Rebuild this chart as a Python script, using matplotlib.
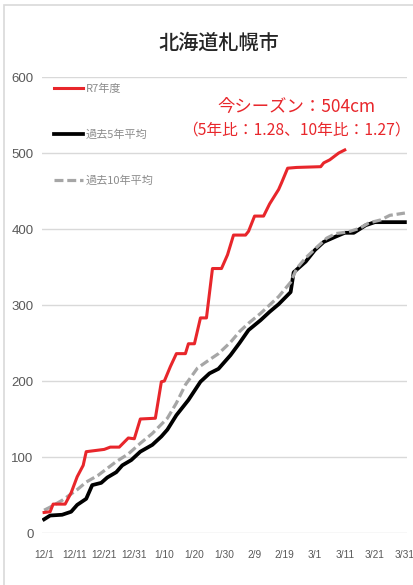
import matplotlib
matplotlib.use("Agg")
import matplotlib.pyplot as plt
from matplotlib.lines import Line2D
from matplotlib.patches import Rectangle

plt.rcParams['font.family'] = ['Noto Sans CJK JP', 'DejaVu Sans']

title = "北海道札幌市"
x_tick_days = [0, 10, 20, 30, 40, 50, 60, 70, 80, 90, 100, 110, 120]
x_tick_labels = ["12/1", "12/11", "12/21", "12/31", "1/10", "1/20", "1/30",
                 "2/9", "2/19", "3/1", "3/11", "3/21", "3/31"]
y_ticks = [0, 100, 200, 300, 400, 500, 600]

# R7年度 (days since 12/1, cumulative snowfall cm)
r7_days = [0, 2, 3, 7, 9, 11, 13, 14, 20, 22, 25, 28, 30, 32, 37, 39, 40, 42, 44,
           47, 48, 50, 52, 54, 56, 59, 61, 63, 67, 68, 70, 73, 75, 78, 79, 81,
           84, 92, 93, 95, 98, 100]
r7_vals = [27, 28, 38, 38, 53, 74, 89, 107, 110, 113, 113, 125, 124, 150, 151, 199,
           200, 219, 236, 236, 249, 249, 283, 283, 348, 348, 366, 392, 392, 397,
           417, 417, 433, 452, 461, 480, 481, 482, 487, 491, 500, 504]

# 過去5年平均
avg5_days = [0, 2, 6, 9, 11, 14, 16, 19, 21, 24, 26, 29, 32, 36, 39, 41, 44, 48,
             52, 55, 58, 62, 65, 68, 72, 75, 78, 82, 83, 87, 90, 93, 97, 100,
             103, 107, 110, 114, 120]
avg5_vals = [18, 23, 24, 28, 37, 45, 63, 66, 73, 80, 89, 96, 107, 116, 127, 136,
             155, 175, 199, 210, 216, 234, 250, 267, 280, 291, 301, 317, 343,
             357, 372, 383, 390, 395, 395, 405, 409, 409, 409]

# 過去10年平均
avg10_days = [0, 2, 6, 11, 14, 18, 21, 24, 28, 32, 36, 41, 44, 47, 51, 55, 58, 62,
              65, 68, 72, 75, 78, 82, 84, 87, 91, 94, 97, 101, 105, 108, 112,
              115, 120]
avg10_vals = [30, 34, 43, 57, 67, 76, 85, 94, 104, 118, 131, 151, 171, 195, 217,
              228, 236, 251, 265, 276, 289, 300, 311, 330, 348, 362, 377, 388,
              394, 396, 401, 408, 412, 418, 421]

labels = ["R7年度", "過去5年平均", "過去10年平均"]
note1 = "今シーズン：504cm"
note2 = "（5年比：1.28、10年比：1.27）"

W, H = 414, 585
fig = plt.figure(figsize=(W / 100, H / 100), dpi=100)
fig.patches.append(Rectangle((4 / W, -0.01), 1.0, 1 - 5 / H + 0.01,
                             transform=fig.transFigure, fill=False,
                             edgecolor="#d9d9d9", linewidth=1.2))

ax = fig.add_axes([42 / W, (585 - 533) / H, 365 / W, (533 - 77) / H])

red = "#e8262b"
gray = "#a6a6a6"
ax.plot(avg10_days, avg10_vals, color=gray, lw=2.3, dashes=(2.8, 1.2),
        label=labels[2], zorder=3)
ax.plot(avg5_days, avg5_vals, color="black", lw=2.7, label=labels[1], zorder=2)
ax.plot(r7_days, r7_vals, color=red, lw=2.2, label=labels[0], zorder=4)

ax.set_xlim(-0.7, 120.7)
ax.set_ylim(0, 600)
ax.set_yticks(y_ticks)
ax.set_xticks(x_tick_days)
ax.set_xticklabels(x_tick_labels)
ax.grid(axis="y", color="#d9d9d9", lw=1.0)
ax.set_axisbelow(True)
for s in ax.spines.values():
    s.set_visible(False)
ax.tick_params(length=0, colors="#595959")
for lab in ax.get_yticklabels():
    lab.set_fontfamily(['Liberation Sans', 'DejaVu Sans'])
    lab.set_fontsize(9.5)
for lab in ax.get_xticklabels():
    lab.set_fontfamily(['Liberation Sans', 'DejaVu Sans'])
    lab.set_fontsize(7.3)
ax.tick_params(axis="y", pad=6)
ax.tick_params(axis="x", pad=12)

handles = [Line2D([], [], color=red, lw=2.2),
           Line2D([], [], color="black", lw=2.7),
           Line2D([], [], color=gray, lw=2.3, dashes=(2.8, 1.2))]
leg = ax.legend(handles, labels, loc="upper left", bbox_to_anchor=(0.02, 0.995),
                frameon=False, fontsize=8, labelspacing=3.2, handlelength=2.6,
                handletextpad=0.3, borderaxespad=0.0)
for t in leg.get_texts():
    t.set_color("#8c8c8c")

fig.text(219 / W, 1 - 43 / H, title, ha="center", va="center", fontsize=14.5,
         color="#262626", fontweight="medium")
fig.text(296 / W, 1 - 107 / H, note1, ha="center", va="center", fontsize=12.5,
         color=red)
fig.text(296 / W, 1 - 130 / H, note2, ha="center", va="center", fontsize=11.3,
         color=red)

fig.savefig("out.png", dpi=100)
